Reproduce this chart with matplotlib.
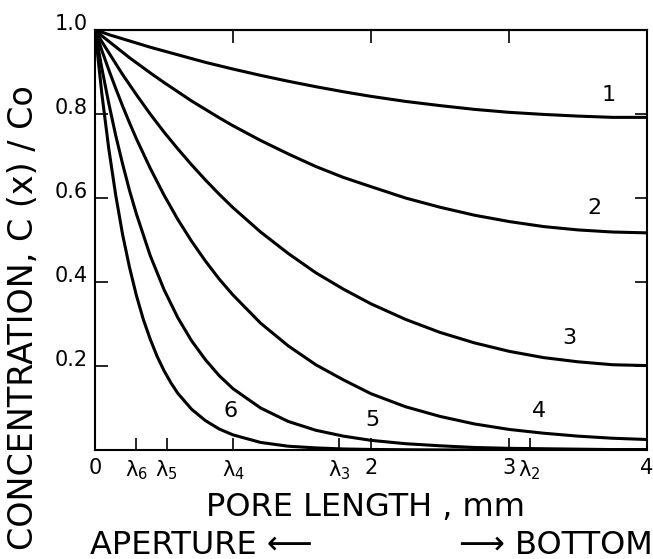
import matplotlib

matplotlib.use("Agg")
import matplotlib.pyplot as plt

X_READ = [0.0, 0.05, 0.1, 0.15, 0.2, 0.25, 0.3, 0.4, 0.5, 0.6, 0.7, 0.8, 0.9, 1.0,
          1.2, 1.4, 1.6, 1.8, 2.0, 2.25, 2.5, 2.75, 3.0, 3.25, 3.5, 3.75, 4.0]
X_CURVE6 = [0.0, 0.05, 0.1, 0.15, 0.2, 0.25, 0.3, 0.35, 0.4, 0.45, 0.5, 0.55, 0.6, 0.7, 0.8, 0.9, 1.0,
            1.2, 1.4, 1.6, 1.8, 2.0, 2.25, 2.5, 2.75, 3.0, 3.5, 4.0]

# C(x)/Co
CURVE1 = [1.0, 0.995, 0.989, 0.984, 0.979, 0.974, 0.969, 0.959, 0.950, 0.941, 0.932, 0.923, 0.915, 0.907,
          0.892, 0.878, 0.865, 0.853, 0.842, 0.830, 0.820, 0.811, 0.804, 0.799, 0.795, 0.792, 0.792]
CURVE2 = [1.0, 0.986, 0.973, 0.960, 0.947, 0.934, 0.922, 0.898, 0.875, 0.853, 0.831, 0.811, 0.791, 0.772,
          0.737, 0.705, 0.675, 0.649, 0.627, 0.600, 0.578, 0.559, 0.544, 0.532, 0.524, 0.519, 0.517]
CURVE3 = [1.0, 0.972, 0.946, 0.920, 0.894, 0.870, 0.846, 0.800, 0.757, 0.717, 0.679, 0.643, 0.609, 0.577,
          0.519, 0.468, 0.422, 0.383, 0.348, 0.311, 0.280, 0.255, 0.235, 0.220, 0.210, 0.203, 0.201]
CURVE4 = [1.0, 0.951, 0.905, 0.861, 0.819, 0.779, 0.741, 0.671, 0.607, 0.549, 0.497, 0.450, 0.407, 0.369,
          0.302, 0.248, 0.203, 0.167, 0.134, 0.103, 0.080, 0.062, 0.049, 0.040, 0.033, 0.028, 0.025]
CURVE5 = [1.0, 0.908, 0.825, 0.749, 0.681, 0.618, 0.562, 0.463, 0.382, 0.315, 0.260, 0.215, 0.177, 0.146,
          0.100, 0.068, 0.047, 0.033, 0.023, 0.015, 0.010, 0.006, 0.004, 0.003, 0.002, 0.001, 0.001]
CURVE6 = [1.0, 0.847, 0.717, 0.607, 0.513, 0.435, 0.368, 0.311, 0.264, 0.223, 0.189, 0.160, 0.135, 0.097,
          0.070, 0.050, 0.036, 0.018, 0.009, 0.005, 0.0025, 0.0013, 0.0006, 0.0002, 0.0001, 0.0, 0.0, 0.0]

CURVE_LABELS = ["1", "2", "3", "4", "5", "6"]
LABEL_POS = [(3.72, 0.845), (3.62, 0.576), (3.44, 0.267), (3.22, 0.093), (2.01, 0.071), (0.98, 0.093)]

# decay lengths marked on the x axis
LAMBDA_POS = [0.30, 0.52, 1.00, 1.77, 3.15]
XTICKS = [0.0, LAMBDA_POS[0], LAMBDA_POS[1], LAMBDA_POS[2], LAMBDA_POS[3], 2.0, 3.0, LAMBDA_POS[4], 4.0]
XTICK_LABELS = ["0", r"$\mathregular{\lambda_6}$", r"$\mathregular{\lambda_5}$", r"$\mathregular{\lambda_4}$",
                r"$\mathregular{\lambda_3}$", "2", "3", r"$\mathregular{\lambda_2}$", "4"]
YTICKS = [0.2, 0.4, 0.6, 0.8, 1.0]
YTICK_LABELS = ["0.2", "0.4", "0.6", "0.8", "1.0"]

plt.rcParams.update(
    {
        "font.family": "DejaVu Sans",
        "mathtext.fontset": "dejavusans",
        "axes.linewidth": 1.5,
    }
)

fig = plt.figure(figsize=(6.53, 5.59), dpi=100)
ax = fig.add_axes([95 / 653, 109 / 559, 552 / 653, 420 / 559])

curves = [
    (X_READ, CURVE1),
    (X_READ, CURVE2),
    (X_READ, CURVE3),
    (X_READ, CURVE4),
    (X_READ, CURVE5),
    (X_CURVE6, CURVE6),
]
for xs, ys in curves:
    ax.plot(xs, ys, color="black", linewidth=2.2, solid_joinstyle="round", solid_capstyle="round")

for label, (lx, ly) in zip(CURVE_LABELS, LABEL_POS):
    ax.text(lx, ly, label, fontsize=16, ha="center", va="center")

ax.set_xlim(0, 4)
ax.set_ylim(0, 1.0)

ax.set_xticks(XTICKS)
ax.set_xticklabels(XTICK_LABELS, fontsize=15)
ax.set_yticks(YTICKS)
ax.set_yticklabels(YTICK_LABELS, fontsize=15)
for lab in ax.get_yticklabels():
    lab.set_verticalalignment("baseline")

ax.tick_params(axis="x", direction="in", length=9, width=1.2, pad=6)
ax.tick_params(axis="y", direction="in", length=9, width=1.2, pad=5, right=True)

top = ax.secondary_xaxis("top")
top.set_xticks([1.0, 2.0, 3.0])
top.tick_params(direction="in", length=9, width=1.2, labeltop=False)

fig.text(365 / 653, 1 - 508 / 559, "PORE LENGTH , mm", fontsize=23, ha="center", va="center")
fig.text(90 / 653, 1 - 545 / 559, "APERTURE \u27f5", fontsize=23, ha="left", va="center")
fig.text(653 / 653, 1 - 545 / 559, "\u27f6 BOTTOM", fontsize=23, ha="right", va="center")
fig.text(24 / 653, 1 - 318 / 559, "CONCENTRATION, C (x) / Co", fontsize=24,
         rotation=90, ha="center", va="center")

fig.savefig("out.png", dpi=100)
plt.close(fig)
